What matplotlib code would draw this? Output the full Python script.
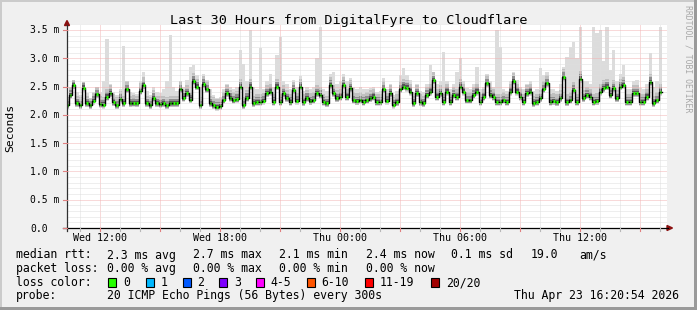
import numpy as np
import matplotlib
matplotlib.use("Agg")
import matplotlib.pyplot as plt
from matplotlib.patches import Rectangle, Polygon
from matplotlib.lines import Line2D

# ---------------- data (milliseconds, 10-minute samples) ----------------
median_ms = [
    2.17, 2.35, 2.52, 2.20, 2.17, 2.48, 2.20, 2.17, 2.25, 2.36,
    2.19, 2.18, 2.32, 2.38, 2.22, 2.17, 2.28, 2.20, 2.45, 2.20,
    2.21, 2.20, 2.42, 2.52, 2.20, 2.17, 2.30, 2.20, 2.19, 2.20,
    2.17, 2.20, 2.20, 2.20, 2.45, 2.30, 2.38, 2.27, 2.60, 2.50,
    2.17, 2.55, 2.45, 2.20, 2.17,
    2.14, 2.15, 2.26, 2.38, 2.30, 2.26, 2.28, 2.50, 2.17, 2.30,
    2.50, 2.20, 2.23, 2.23, 2.25, 2.38, 2.41, 2.23, 2.50, 2.23,
    2.38, 2.29, 2.23, 2.44, 2.25, 2.50, 2.22, 2.30, 2.24, 2.26,
    2.38, 2.35, 2.23, 2.20, 2.53, 2.38, 2.29, 2.32, 2.53, 2.32,
    2.47, 2.26, 2.24, 2.26, 2.23,
    2.26, 2.29, 2.32, 2.23, 2.23, 2.45, 2.25, 2.38, 2.18, 2.22,
    2.45, 2.50, 2.48, 2.41, 2.20, 2.38, 2.22, 2.20, 2.35, 2.41,
    2.61, 2.32, 2.38, 2.23, 2.41, 2.23, 2.35, 2.32, 2.50, 2.41,
    2.26, 2.26, 2.35, 2.41, 2.23, 2.32, 2.56, 2.35, 2.32, 2.23,
    2.23, 2.26, 2.23, 2.41, 2.60,
    2.41, 2.32, 2.23, 2.38, 2.41, 2.20, 2.23, 2.29, 2.45, 2.56,
    2.23, 2.24, 2.22, 2.29, 2.67, 2.22, 2.26, 2.44, 2.23, 2.64,
    2.29, 2.35, 2.32, 2.23, 2.24, 2.41, 2.47, 2.50, 2.35, 2.47,
    2.29, 2.50, 2.53, 2.23, 2.23, 2.38, 2.38, 2.23, 2.23, 2.32,
    2.58, 2.20, 2.26, 2.41,
]

smoke_max_ms = [
    2.32, 2.50, 2.62, 2.40, 2.35, 2.58, 2.38, 2.30, 2.40, 2.50,
    2.40, 2.60, 3.34, 2.55, 2.40, 2.35, 2.45, 3.22, 2.60, 2.40,
    2.38, 2.36, 2.60, 2.75, 2.42, 2.35, 2.50, 2.40, 2.38, 2.45,
    2.60, 3.41, 2.50, 2.42, 2.60, 2.50, 2.62, 2.85, 2.88, 2.70,
    2.50, 2.72, 2.62, 2.45, 2.35,
    2.30, 2.32, 2.45, 2.55, 2.50, 2.45, 2.50, 3.14, 2.90, 2.60,
    3.50, 2.50, 2.45, 3.18, 2.45, 2.60, 2.72, 2.50, 3.05, 3.38,
    2.60, 2.55, 2.45, 2.62, 2.50, 2.68, 2.42, 2.50, 2.45, 2.50,
    3.00, 3.55, 2.45, 2.42, 2.72, 2.76, 2.55, 2.60, 2.72, 2.60,
    2.65, 2.50, 2.45, 2.50, 2.45,
    2.45, 2.48, 2.50, 2.40, 2.42, 2.65, 2.45, 2.55, 2.35, 2.42,
    2.70, 2.82, 2.70, 2.62, 2.40, 2.55, 2.42, 2.40, 2.55, 2.88,
    2.75, 2.55, 2.60, 3.11, 2.60, 2.45, 2.55, 2.75, 3.00, 2.60,
    2.48, 2.45, 2.55, 2.85, 2.45, 2.50, 2.72, 2.60, 2.50, 3.50,
    3.20, 2.45, 2.42, 2.60, 2.75,
    2.62, 2.50, 2.45, 2.55, 2.60, 2.42, 2.45, 2.82, 2.70, 2.75,
    2.45, 2.45, 2.42, 2.55, 2.85, 3.03, 3.20, 3.29, 3.00, 3.55,
    2.60, 2.60, 2.55, 3.55, 3.45, 3.50, 2.95, 3.55, 2.80, 3.14,
    2.60, 2.72, 2.88, 2.45, 2.45, 2.60, 2.62, 2.48, 2.45, 2.55,
    3.10, 2.50, 2.60, 3.55,
]

x_tick_hours = [12, 18, 24, 30, 36]
x_tick_labels = ["Wed 12:00", "Wed 18:00", "Thu 00:00", "Thu 06:00", "Thu 12:00"]
y_tick_values = [0.0, 0.5, 1.0, 1.5, 2.0, 2.5, 3.0, 3.5]
y_tick_labels = ["0.0", "0.5 m", "1.0 m", "1.5 m", "2.0 m", "2.5 m", "3.0 m", "3.5 m"]

title = "Last 30 Hours from DigitalFyre to Cloudflare"
legend_rows = [
    [("median rtt:", 16), ("2.3 ms avg", 107.3), ("2.7 ms max", 193.3), ("2.1 ms min", 279.3),
     ("2.4 ms now", 366), ("0.1 ms sd", 451), ("19.0", 530.7), ("am/s", 579.3)],
    [("packet loss:", 16), ("0.00 % avg", 107.3), ("0.00 % max", 193.3), ("0.00 % min", 279.3),
     ("0.00 % now", 366)],
    [("loss color:", 16)],
    [("probe:", 16), ("20 ICMP Echo Pings (56 Bytes) every 300s", 107.3),
     ("Thu Apr 23 16:20:54 2026", 514)],
]
loss_labels = ["0", "1", "2", "3", "4-5", "6-10", "11-19", "20/20"]
loss_colors = ["#26ff00", "#00b8ff", "#0059ff", "#7e00ff", "#ff00ff", "#ff5500", "#ff0000", "#a10000"]
loss_box_x = [108.3, 145.7, 182.7, 219.3, 256, 307.3, 365, 430.7]
loss_label_x = [123.3, 160.7, 197.3, 234.3, 270.7, 321.7, 380, 446]

# ---------------- layout ----------------
W, H, DPI = 697, 310, 100
FONT = "DejaVu Sans Mono"
plt.rcParams["font.family"] = [FONT, "DejaVu Sans"]

start_hour = 10 + 20 / 60 + 54 / 3600     # Wed 10:20:54
end_hour = start_hour + 30
step_h = 1 / 6
first_sample = start_hour - step_h / 2 + 0.005

PL, PR, PB, PT = 67, 667, 228, 24
y_top = (PB - PT) / 56.6

def fx(x):
    return x / W

def fy(y):
    return 1 - y / H

fig = plt.figure(figsize=(W / DPI, H / DPI), dpi=DPI, facecolor="#f0f0f0")
ax = fig.add_axes([fx(PL), fy(PB), (PR - PL) / W, (PB - PT) / H])
ax.set_facecolor("white")
ax.set_xlim(start_hour, end_hour)
ax.set_ylim(0, y_top)
for s in ax.spines.values():
    s.set_visible(False)
ax.set_xticks([])
ax.set_yticks([])

med = np.array(median_ms)
smax = np.array(smoke_max_ms)
n = len(med)
t = first_sample + np.arange(n) * step_h
edges = np.append(t, t[-1] + step_h)

def ext(a):
    return np.append(a, a[-1])

# smoke layers
ax.fill_between(edges, ext(med - 0.07), ext(smax), step="post", color="#dcdcdc", lw=0, zorder=1)
ax.fill_between(edges, ext(med - 0.06), ext(np.minimum(smax, med + 0.14)), step="post",
                color="#c0c0c0", lw=0, zorder=1.2)
ax.fill_between(edges, ext(med - 0.05), ext(np.minimum(smax, med + 0.08)), step="post",
                color="#8e8e8e", lw=0, zorder=1.4)
ax.fill_between(edges, ext(med - 0.03), ext(med + 0.04), step="post",
                color="#555555", lw=0, zorder=1.6)

# grid (dotted, drawn over smoke)
for h in range(11, 41):
    c = "#f2b4b4" if h % 3 == 0 else "#dedede"
    ax.axvline(h, color=c, lw=0.72, ls=(0, (1, 1)), zorder=3)
for k in range(1, 37):
    v = k / 10
    c = "#f2b4b4" if k % 5 == 0 else "#dedede"
    ax.axhline(v, color=c, lw=0.72, ls=(0, (1, 1)), zorder=3)

# median line + loss-colour band
ax.step(edges, ext(med), where="post", color="#000000", lw=1.0, zorder=4)
ax.hlines(med, t + 0.25 * step_h, t + 0.8 * step_h, color=loss_colors[0], lw=2.2, zorder=5)

# ---------------- axes, arrows ----------------
fig.add_artist(Line2D([fx(63), fx(668)], [fy(PB), fy(PB)], color="black", lw=0.9))
fig.add_artist(Line2D([fx(PL), fx(PL)], [fy(PB + 3), fy(PT + 1)], color="#303030", lw=0.9))
fig.add_artist(Polygon([[fx(667), fy(225.5)], [fx(667), fy(230.5)], [fx(672.5), fy(228)]],
                       closed=True, color="#8b1010", transform=fig.transFigure))
fig.add_artist(Polygon([[fx(64.5), fy(25.5)], [fx(69.5), fy(25.5)], [fx(67), fy(20.5)]],
                       closed=True, color="#8b1010", transform=fig.transFigure))
for h in range(11, 41):
    xp = PL + (h - start_hour) * 20
    c = "#e08080" if h % 3 == 0 else "#b8b8b8"
    fig.add_artist(Line2D([fx(xp), fx(xp)], [fy(PB), fy(PB + 3)], color=c, lw=0.8))
for v in y_tick_values:
    yp = PB - v * 56.6
    fig.add_artist(Line2D([fx(63), fx(PL)], [fy(yp), fy(yp)], color="#e08080", lw=0.8))

# ---------------- texts ----------------
fig.text(fx(348.5), fy(24), title, fontsize=9.7, ha="center", va="baseline", family=FONT, color="#000000")
fig.text(fx(688), fy(59), "RRDTOOL / TOBI OETIKER", rotation=-90, fontsize=5.9,
         ha="center", va="center", family=FONT, color="#a8a8a8")
fig.text(fx(10), fy(128), "Seconds", rotation=90, fontsize=8.2, ha="center", va="center", family=FONT)

for v, lab in zip(y_tick_values, y_tick_labels):
    yp = PB - v * 56.6
    fig.text(fx(30), fy(yp + 3.5), lab, fontsize=7.0, ha="left", va="baseline", family=FONT)
for h, lab in zip(x_tick_hours, x_tick_labels):
    xp = PL + (h - start_hour) * 20
    fig.text(fx(xp), fy(241), lab, fontsize=7.2, ha="center", va="baseline", family=FONT)

baselines = [258.5, 272, 286, 299.5]
for row, yb in zip(legend_rows, baselines):
    for txt, xp in row:
        fig.text(fx(xp), fy(yb), txt, fontsize=8.3, ha="left", va="baseline", family=FONT)
for bx, lx, lab, col in zip(loss_box_x, loss_label_x, loss_labels, loss_colors):
    fig.add_artist(Rectangle((fx(bx), fy(287)), 8 / W, 9 / H, transform=fig.transFigure,
                             facecolor=col, edgecolor="black", lw=0.8))
    fig.text(fx(lx), fy(286), lab, fontsize=8.3, ha="left", va="baseline", family=FONT)

# frame shading
fig.add_artist(Rectangle((0, fy(2)), 1, 2 / H, transform=fig.transFigure, color="#cbcbcb", lw=0))
fig.add_artist(Rectangle((0, 0), 2 / W, 1, transform=fig.transFigure, color="#cbcbcb", lw=0))
fig.add_artist(Rectangle((fx(694), 0), 3 / W, 1, transform=fig.transFigure, color="#9a9a9a", lw=0))
fig.add_artist(Rectangle((0, 0), 1, 3 / H, transform=fig.transFigure, color="#9a9a9a", lw=0))

fig.savefig("out.png", dpi=DPI, facecolor=fig.get_facecolor())
